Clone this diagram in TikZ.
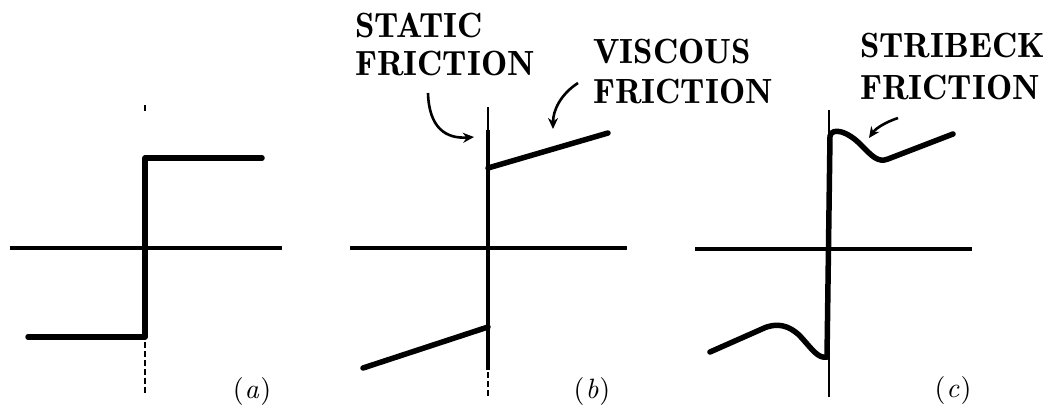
\documentclass[tikz,border=0pt]{standalone}
\usepackage{fontspec}
\setmainfont{lmroman10-regular.otf}[ItalicFont=lmroman10-italic.otf, BoldFont=lmromandemi10-regular.otf]
\usetikzlibrary{arrows.meta, positioning, calc}

\begin{document}
\begin{tikzpicture}[
    x=1pt, y=-1pt,
    axis/.style={line width=3.4pt},
    curve/.style={line width=5.5pt, line cap=round, line join=round},
    post/.style={line width=1.6pt},
    stub/.style={line width=1.6pt, dash pattern=on 6pt off 3pt},
    annot/.style={-{Stealth[length=11pt,width=10pt]}, line width=2.6pt},
    sublabel/.style={inner sep=0pt, font=\fontsize{28}{30}\selectfont},
    tag/.style={inner sep=0pt, anchor=west, align=left, font=\fontsize{35}{40}\selectfont\bfseries}
]
\useasboundingbox (0,0) rectangle (1052,413);

% (a) Coulomb friction
\draw[axis] (10,248) -- (282,248);
\draw[line width=2.2pt] (145,105) -- (145,111);
\draw[curve] (28,337) -- (145,337) -- (145,158) -- (262,158);
\draw[stub] (145,342) -- (145,393);
\node[sublabel] (capa) at (252,391) {(\kern1pt\textit{a}\kern1pt)};

% (b) static + viscous
\draw[axis] (350,248) -- (627,248);
\draw[post] (488,107) -- (488,132);
\draw[line width=4.4pt] (488,130) -- (488,370);
\draw[stub] (488,372) -- (488,397);
\draw[curve] (488,168) -- (608,133);  % viscous branch
\draw[curve] (363,368) -- (488,327);
\node[tag] (static) at (355,44) {STATIC\\[-2pt]FRICTION};
\node[tag] (viscous) at (593,71) {VISCOUS\\FRICTION};
\coordinate (static tail) at (428,93);
\coordinate (static head) at (474,137);
\coordinate (viscous tail) at (578,83);
\coordinate (viscous head) at (553,129);
\draw[annot] (static tail) .. controls (429,128) and (446,139) .. (static head);
\draw[annot] (viscous tail) .. controls (561,94) and (553,110) .. (viscous head);
\node[sublabel] (capb) at (592,391) {(\kern1pt\textit{b}\kern1pt)};

% (c) with Stribeck effect
\draw[axis] (695,249) -- (972,249);
\draw[post] (829,110) -- (829,397);
\draw[curve] (827,357) -- (830,136)
    .. controls (832,127) and (848,131) .. (862,146)
    .. controls (872,156) and (878,163) .. (888,159) -- (953,134);
\draw[curve] (710,352) -- (762,329)
    .. controls (776,322) and (789,325) .. (800,336)
    .. controls (812,349) and (818,359) .. (827,357);
\node[tag] (stribeck) at (860,66) {STRIBECK\\[2pt]FRICTION};
\coordinate (stribeck tail) at (898,118);
\coordinate (stribeck head) at (869,138);
\draw[annot] (stribeck tail) .. controls (886,122) and (876,128) .. (stribeck head);
\node[sublabel] (capc) at (953,390) {(\kern1pt\textit{c}\kern1pt)};

\end{tikzpicture}
\end{document}
